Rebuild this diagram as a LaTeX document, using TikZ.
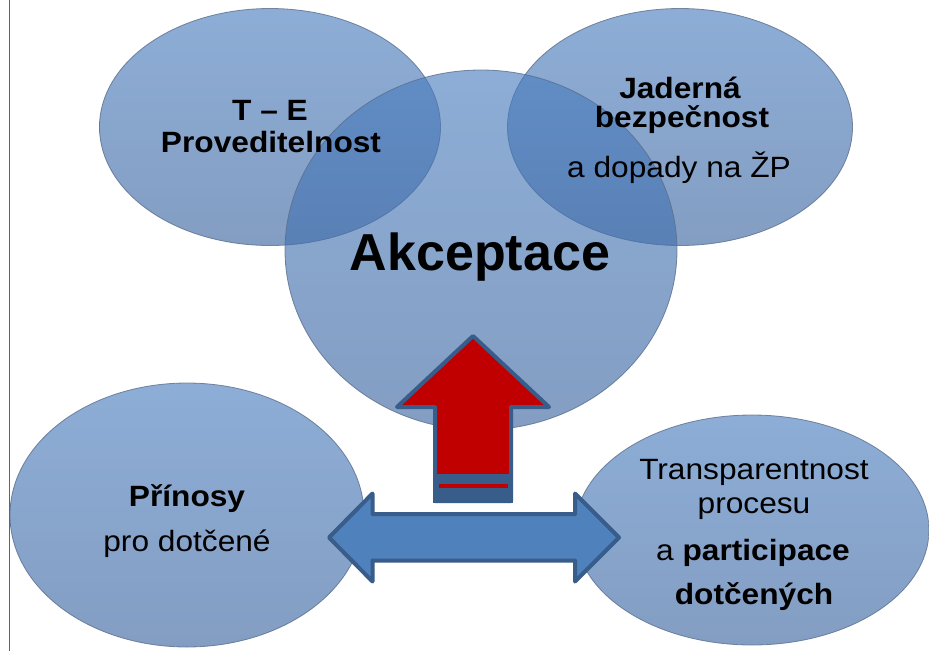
\documentclass[tikz,border=0pt]{standalone}
\usepackage{fontspec}
\setmainfont{Liberation Sans}[FakeStretch=1.08]
\newfontfamily\akfont{Liberation Sans}
\usetikzlibrary{shapes.geometric}
\definecolor{blobtop}{RGB}{72,124,190}
\definecolor{blobbot}{RGB}{56,98,158}
\definecolor{blobedge}{RGB}{90,110,140}
\definecolor{arrowfill}{RGB}{79,129,189}
\definecolor{arrowedge}{RGB}{56,93,138}
\definecolor{arrowred}{RGB}{192,0,0}
\definecolor{frameline}{RGB}{100,100,100}
\begin{document}
\begin{tikzpicture}[x=0.75pt,y=-0.75pt,
  blob/.style={ellipse, inner sep=0pt, top color=blobtop, bottom color=blobbot,
    fill opacity=0.62, draw=blobedge, draw opacity=0.8, line width=0.6pt},
  lbl/.style={anchor=base, inner sep=0pt, text=black, font=\fontsize{22}{26}\selectfont},
  blbl/.style={lbl, font=\fontsize{22}{26}\selectfont\bfseries},
  biglbl/.style={lbl, font=\akfont\fontsize{39}{40}\selectfont\bfseries},
  bigarrow/.style={draw=arrowedge, line width=3pt, line join=round}
]
\useasboundingbox (0,0) rectangle (929,651);
\fill[white] (0,0) rectangle (929,651);
\draw[frameline, line width=1.1pt] (9.5,0) -- (9.5,651);

% ellipses
\node[blob, minimum width=341*0.75pt, minimum height=237*0.75pt] (te) at (270,127) {};
\node[blob, minimum width=345*0.75pt, minimum height=237*0.75pt] (jb) at (680,127) {};
\node[blob, minimum width=392*0.75pt, minimum height=360*0.75pt] (ak) at (481,250) {};
\node[blob, minimum width=354*0.75pt, minimum height=264*0.75pt] (pr) at (187,515) {};
\node[blob, minimum width=354*0.75pt, minimum height=230*0.75pt] (tp) at (752,530) {};

% up arrow
\draw[bigarrow, fill=arrowred] (473,336) -- (549,407) -- (511,407) -- (511,501)
  -- (435,501) -- (435,407) -- (397,407) -- cycle;
\fill[arrowedge] (433,474) rectangle (513,503);
\fill[arrowred] (439,484) rectangle (508,488);

% double arrow
\draw[bigarrow, fill=arrowfill] (329,537.5) -- (372.5,493.5) -- (372.5,514) -- (575,514)
  -- (575,493.5) -- (619,537.5) -- (575,581.5) -- (575,560.5) -- (372.5,560.5)
  -- (372.5,581.5) -- cycle;

% texts
\node[blbl] (te1) at (270,120) {T – E};
\node[blbl] (te2) at (271,152) {Proveditelnost};
\node[blbl] (jb1) at (680,98) {Jaderná};
\node[blbl] (jb2) at (682,127) {bezpečnost};
\node[lbl]  (jb3) at (679,177) {a dopady na ŽP};
\node[biglbl] (ak1) at (480,270) {Akceptace};
\node[blbl] (pr1) at (187,506) {Přínosy};
\node[lbl]  (pr2) at (187,551) {pro dotčené};
\node[lbl]  (tp1) at (754,479) {Transparentnost};
\node[lbl]  (tp2) at (754,513) {procesu};
\node[lbl]  (tp3) at (753,560) {a \textbf{participace}};
\node[blbl] (tp4) at (754,604) {dotčených};
\end{tikzpicture}
\end{document}
